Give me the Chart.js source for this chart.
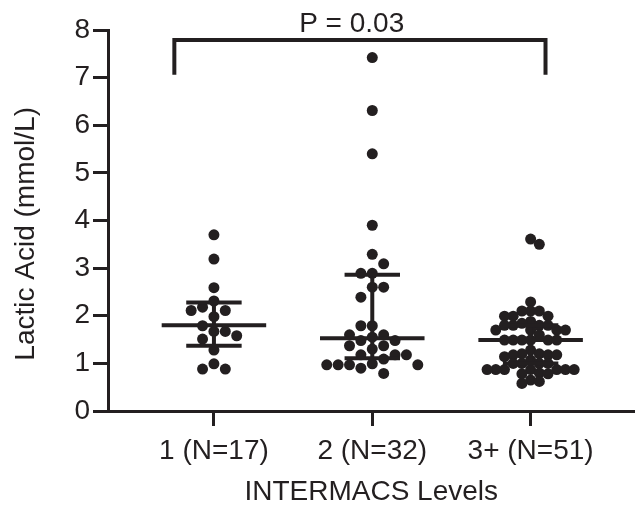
<!DOCTYPE html>
<html lang="en">
<head>
<meta charset="UTF-8">
<title>Lactic Acid by INTERMACS Level</title>
<script src="https://cdn.jsdelivr.net/npm/chart.js"></script>
<style>
  html, body { margin: 0; padding: 0; background: #fff; }
  #wrap { width: 640px; height: 511px; }
</style>
</head>
<body>
<div id="wrap"><canvas id="chart" width="640" height="511"></canvas></div>
<script>
// values
const levels = [1, 2, 3];
const levelLabels = ['1 (N=17)', '2 (N=32)', '3+ (N=51)'];
const yTicks = [0, 1, 2, 3, 4, 5, 6, 7, 8];

const level1 = [3.70, 3.19, 2.59, 2.31, 2.18, 2.11, 2.11, 1.98, 1.79, 1.67, 1.67, 1.58, 1.51, 1.28, 0.99, 0.88, 0.88];
const level2 = [7.42, 6.31, 5.40, 3.90, 3.29, 3.09, 2.89, 2.89, 2.60, 2.60, 2.39, 1.79, 1.79, 1.60, 1.60, 1.55,
                1.48, 1.48, 1.37, 1.37, 1.30, 1.18, 1.18, 1.18, 1.09, 0.99, 0.97, 0.97, 0.97, 0.97, 0.90, 0.79];
const level3 = [3.61, 3.50, 2.29, 2.10, 2.10, 2.10, 1.99, 1.99, 1.99, 1.88, 1.84, 1.80, 1.80, 1.80, 1.80, 1.70, 1.70,
                1.70, 1.70, 1.60, 1.49, 1.49, 1.49, 1.49, 1.49, 1.49, 1.28, 1.20, 1.20, 1.18, 1.18, 1.18, 1.14, 1.07,
                1.00, 1.00, 1.00, 1.00, 0.87, 0.87, 0.87, 0.87, 0.87, 0.87, 0.87, 0.80, 0.78, 0.78, 0.65, 0.62, 0.58];

const medians = [1.80, 1.53, 1.49];
const lowerQ = [1.37, 1.11, 1.00];
const upperQ = [2.28, 2.86, 1.80];

const pValue = 0.03;

const INK = '#231f20';
const FONT = '"Liberation Sans", Arial, Helvetica, sans-serif';
const FONT_SIZE = 28;
const DOT_R = 5.5;
const PX_PER_X = 160, PX_PER_Y = 381 / 8;

// simple beeswarm: spread close values sideways in fixed steps
function swarm(values, center, step) {
  const placed = [];
  return values.slice().sort((a, b) => b - a).map((v, i) => {
    const yp = v * PX_PER_Y;
    for (let k = 0; k < 30; k++) {
      const sides = k === 0 ? [0] : (i % 2 ? [k, -k] : [-k, k]);
      for (const s of sides) {
        const xp = s * step;
        if (placed.every(p => Math.hypot(p.x - xp, p.y - yp) >= step - 0.6)) {
          placed.push({ x: xp, y: yp });
          return { x: center + xp / PX_PER_X, y: v };
        }
      }
    }
  });
}

function hSegments(vals, half) {
  const out = [];
  levels.forEach((lv, i) => out.push({ x: lv - half, y: vals[i] }, { x: lv + half, y: vals[i] }, { x: lv, y: null }));
  return out;
}

function vSegments() {
  const out = [];
  levels.forEach((lv, i) => out.push({ x: lv, y: lowerQ[i] }, { x: lv, y: upperQ[i] }, { x: lv, y: null }));
  return out;
}

const segStyle = { type: 'line', borderColor: INK, borderWidth: 4, pointRadius: 0, spanGaps: false, borderCapStyle: 'butt' };

const bracketLeft = levels[0] - 0.25, bracketRight = levels[2] + 0.094;
const bracketTop = 7.79, bracketFoot = 7.06;

// p-value over the bracket and the y title (placed a bit below centre, like the original)
const textPlugin = {
  id: 'extraText',
  afterDraw(chart) {
    const { ctx, scales: { x, y } } = chart;
    ctx.save();
    ctx.font = FONT_SIZE + 'px ' + FONT;
    ctx.fillStyle = INK;
    ctx.textAlign = 'center';
    ctx.textBaseline = 'alphabetic';
    ctx.fillText('P = ' + pValue.toFixed(2), x.getPixelForValue(1.87), y.getPixelForValue(7.96));
    ctx.textBaseline = 'middle';
    ctx.translate(26, y.getPixelForValue(3.72));
    ctx.rotate(-Math.PI / 2);
    ctx.fillText('Lactic Acid (mmol/L)', 0, 0);
    ctx.restore();
  }
};

const axisFont = { family: FONT, size: FONT_SIZE };

new Chart(document.getElementById('chart'), {
  type: 'scatter',
  data: {
    datasets: [
      { ...segStyle, data: hSegments(medians, 0.33) },
      { ...segStyle, data: hSegments(lowerQ, 0.175) },
      { ...segStyle, data: hSegments(upperQ, 0.175) },
      { ...segStyle, data: vSegments() },
      { ...segStyle, borderJoinStyle: 'miter',
        data: [{ x: bracketLeft, y: bracketFoot }, { x: bracketLeft, y: bracketTop },
               { x: bracketRight, y: bracketTop }, { x: bracketRight, y: bracketFoot }] },
      { data: [...swarm(level1, levels[0], 11.5), ...swarm(level2, levels[1], 11.5), ...swarm(level3, levels[2], 8.8)],
        backgroundColor: INK, borderWidth: 0, pointRadius: DOT_R, pointHoverRadius: DOT_R }
    ]
  },
  options: {
    responsive: false,
    animation: false,
    devicePixelRatio: 1,
    layout: { padding: { top: 30, right: 0, bottom: 0, left: 0 } },
    plugins: { legend: { display: false }, tooltip: { enabled: false } },
    scales: {
      x: {
        type: 'linear', min: 0.331, max: 3.656,
        afterBuildTicks: s => { s.ticks = levels.map(v => ({ value: v })); },
        afterFit: s => { s.height = 100; },
        ticks: { callback: v => levelLabels[levels.indexOf(v)], font: axisFont, color: INK, padding: 8, maxRotation: 0, autoSkip: false },
        grid: { drawOnChartArea: false, drawTicks: true, tickLength: 15, tickWidth: 3, tickColor: INK },
        border: { display: true, color: INK, width: 3 },
        title: { display: true, text: 'INTERMACS Levels', font: axisFont, color: INK, padding: { top: 0, bottom: 2 } }
      },
      y: {
        min: 0, max: 8,
        afterBuildTicks: s => { s.ticks = yTicks.map(v => ({ value: v })); },
        afterFit: s => { s.width = 108; },
        ticks: { font: axisFont, color: INK, padding: 3 },
        grid: { drawOnChartArea: false, drawTicks: true, tickLength: 15, tickWidth: 3, tickColor: INK },
        border: { display: true, color: INK, width: 3 }
      }
    }
  },
  plugins: [textPlugin]
});
</script>
</body>
</html>
